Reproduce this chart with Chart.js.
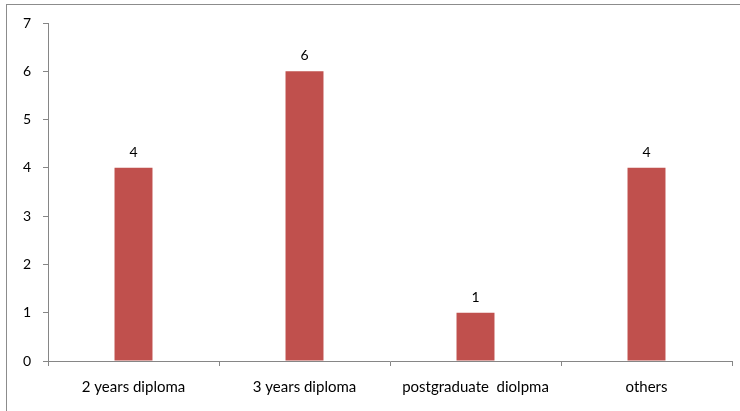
<!DOCTYPE html>
<html lang="en">
<head>
  <meta charset="UTF-8" />
  <title>Qualification</title>
  <script src="https://cdn.jsdelivr.net/npm/chart.js"></script>
  <style>
    html, body {
      margin: 0;
      padding: 0;
      background: #fff;
      overflow: hidden;
    }
    #frame {
      position: absolute;
      left: 6px;
      top: 4px;
      width: 760px;
      height: 440px;
      border-left: 1px solid #8c8c8c;
      border-top: 1px solid #8c8c8c;
    }
    canvas {
      position: absolute;
      left: 0;
      top: 0;
    }
  </style>
</head>
<body>
  <div id="frame"></div>
  <canvas id="chart" width="740" height="411"></canvas>

  <script>
    const categories = ['2 years diploma', '3 years diploma', 'postgraduate  diolpma', 'others'];
    const counts = [4, 6, 1, 4];
    const yTicks = [0, 1, 2, 3, 4, 5, 6, 7];

    const axisColor = '#868686';
    const fontFamily = 'Lato, "Open Sans", sans-serif';

    // writes each bar's value above it
    const valueLabels = {
      id: 'valueLabels',
      afterDatasetsDraw(chart) {
        const ctx = chart.ctx;
        ctx.save();
        ctx.font = '14px ' + fontFamily;
        ctx.fillStyle = '#000';
        ctx.textAlign = 'center';
        ctx.textBaseline = 'alphabetic';
        chart.getDatasetMeta(0).data.forEach((bar, i) => {
          ctx.fillText(String(counts[i]), bar.x, bar.y - 11);
        });
        ctx.restore();
      }
    };

    const ctx = document.getElementById('chart').getContext('2d');

    new Chart(ctx, {
      type: 'bar',
      data: {
        labels: categories,
        datasets: [{
          data: counts,
          backgroundColor: '#c0504d',
          borderWidth: 0,
          barPercentage: 0.222,
          categoryPercentage: 1
        }]
      },
      options: {
        responsive: false,
        animation: false,
        layout: {
          padding: { top: 23, right: 8, bottom: 0, left: 0 }
        },
        plugins: {
          legend: { display: false },
          tooltip: { enabled: false }
        },
        scales: {
          x: {
            grid: {
              offset: true,
              drawOnChartArea: false,
              drawTicks: true,
              tickLength: 5,
              color: axisColor
            },
            border: { color: axisColor, width: 1 },
            ticks: {
              color: '#000',
              padding: 12,
              maxRotation: 0,
              autoSkip: false,
              font: { family: fontFamily, size: 15 }
            },
            afterFit(scale) { scale.height = 50; }
          },
          y: {
            min: 0,
            max: 7,
            grid: {
              drawOnChartArea: false,
              drawTicks: true,
              tickLength: 5,
              color: axisColor
            },
            border: { color: axisColor, width: 1 },
            afterBuildTicks(scale) {
              scale.ticks = yTicks.map(v => ({ value: v }));
            },
            ticks: {
              color: '#000',
              padding: 12,
              font: { family: fontFamily, size: 14 }
            },
            afterFit(scale) { scale.width = 48; }
          }
        }
      },
      plugins: [valueLabels]
    });
  </script>
</body>
</html>
